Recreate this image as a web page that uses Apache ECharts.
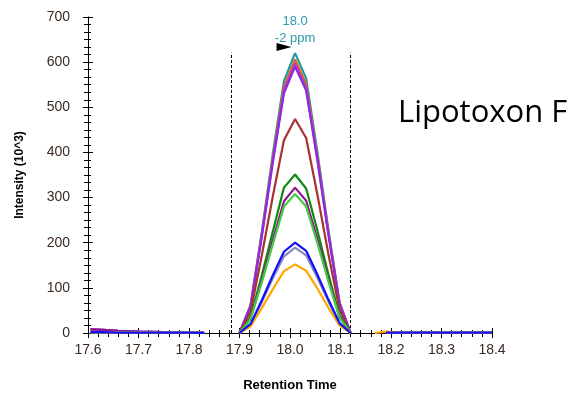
<!DOCTYPE html>
<html>
<head>
<meta charset="utf-8">
<script src="https://cdn.jsdelivr.net/npm/echarts@6/dist/echarts.min.js"></script>
<style>
html, body { margin: 0; padding: 0; background: #fff; }
#main { width: 587px; height: 397px; }
</style>
</head>
<body>
<div id="main"></div>
<script>
// retention times (min)
var leftTimes = [17.605, 17.63, 17.66, 17.70, 17.75, 17.80, 17.83];
var peakTimes = [17.900, 17.922, 17.944, 17.966, 17.988, 18.010, 18.032, 18.054, 18.076, 18.098, 18.120];
var rightTimes = [18.168, 18.19, 18.22, 18.25, 18.28, 18.31, 18.34, 18.37, 18.40];

// baseline intensities
var leftHigh = [8, 7, 5, 3, 2, 1, 1];
var leftLow = [2, 2, 1, 1, 1, 1, 0];
var rightFlat = [null, 1, 1, 1, 1, 1, 1, 1, 1];
var rightOrange = [0, 3, 1, 1, 1, 1, 1, 1, 1];

// peak intensities (10^3)
var tealPeak = [0, 62, 223, 397, 558, 620, 564, 403, 229, 68, 0];
var chocPeak = [0, 61, 218, 388, 545, 606, 551, 394, 224, 67, 0];
var magentaPeak = [0, 60, 215, 382, 537, 597, 543, 388, 221, 66, 0];
var violetPeak = [0, 59, 212, 378, 531, 590, 537, 384, 218, 65, 0];
var brownPeak = [0, 47, 171, 303, 427, 474, 432, 308, 175, 52, 0];
var greenPeak = [0, 35, 127, 225, 322, 351, 320, 228, 130, 39, 0];
var purplePeak = [0, 32, 116, 206, 292, 322, 293, 209, 119, 35, 0];
var limePeak = [0, 31, 111, 197, 280, 308, 280, 200, 114, 34, 0];
var lavenderPeak = [0, 19, 68, 121, 170, 189, 172, 123, 70, 21, 0];
var orangePeak = [0, 15, 55, 97, 137, 152, 138, 99, 56, 17, 0];
var bluePeak = [0, 20, 72, 128, 180, 200, 182, 130, 74, 22, 0];

var boundaries = [17.883, 18.119];
var boundaryTop = 621;
var apexTime = 18.010;
var apexLabel = '18.0\n-2 ppm';

function seg(times, vals) {
    var out = [];
    for (var i = 0; i < times.length; i++) {
        out.push([times[i], vals[i] == null ? null : vals[i]]);
    }
    return out;
}

function makeData(left, peak, right) {
    var d = seg(leftTimes, left);
    d.push([17.86, null]);
    d = d.concat(seg(peakTimes, peak));
    d.push([18.15, null]);
    d = d.concat(seg(rightTimes, right));
    return d;
}

var traces = [
    { color: '#1f9a9a', left: leftLow, peak: tealPeak, right: rightFlat },
    { color: '#d2691e', left: leftLow, peak: chocPeak, right: rightFlat },
    { color: '#cc33cc', left: leftHigh, peak: magentaPeak, right: rightFlat },
    { color: '#8a2be2', left: leftHigh, peak: violetPeak, right: rightFlat },
    { color: '#a83232', left: leftLow, peak: brownPeak, right: rightFlat },
    { color: '#118811', left: leftLow, peak: greenPeak, right: rightFlat },
    { color: '#8b1a8b', left: leftHigh, peak: purplePeak, right: rightFlat },
    { color: '#44cc44', left: leftLow, peak: limePeak, right: rightFlat },
    { color: '#8888bb', left: leftLow, peak: lavenderPeak, right: rightFlat },
    { color: '#ffa500', left: leftLow, peak: orangePeak, right: rightOrange },
    { color: '#1010ff', left: leftLow, peak: bluePeak, right: rightFlat }
];

var series = [];
for (var i = 0; i < traces.length; i++) {
    var t = traces[i];
    series.push({
        type: 'line',
        data: makeData(t.left, t.peak, t.right),
        symbol: 'none',
        connectNulls: false,
        lineStyle: { color: t.color, width: 2.2 },
        itemStyle: { color: t.color },
        z: 3 + i,
        animation: false
    });
}

// boundaries + apex annotation on the teal trace
series[0].markLine = {
    silent: true,
    symbol: 'none',
    label: { show: false },
    lineStyle: { color: '#000', width: 1, type: [3, 2] },
    data: boundaries.map(function (b) {
        return [{ coord: [b, 0] }, { coord: [b, boundaryTop] }];
    })
};
series[0].markPoint = {
    silent: true,
    data: [
        {
            coord: [apexTime, tealPeak[5]],
            symbol: 'triangle',
            symbolSize: [8, 15],
            symbolRotate: -90,
            symbolOffset: [-11, -6],
            itemStyle: { color: '#000' },
            label: { show: false }
        },
        {
            coord: [apexTime, tealPeak[5]],
            symbolSize: 0,
            label: {
                show: true,
                position: 'top',
                offset: [0, -1],
                formatter: apexLabel,
                color: '#2a9aa8',
                fontSize: 13,
                lineHeight: 17,
                fontFamily: 'Liberation Sans, Arial, sans-serif'
            }
        }
    ]
};

var font = 'Liberation Sans, Arial, sans-serif';
var myChart = echarts.init(document.getElementById('main'));
var option = {
    backgroundColor: '#fff',
    animation: false,
    grid: { left: 88, right: 95, top: 17, bottom: 61 },
    xAxis: [{
        type: 'value',
        min: 17.6, max: 18.4, interval: 0.1,
        position: 'bottom',
        name: 'Retention Time',
        nameLocation: 'middle',
        nameGap: 46,
        nameTextStyle: { color: '#000', fontWeight: 'bold', fontSize: 13, fontFamily: font },
        axisLine: { lineStyle: { color: '#000', width: 1 } },
        axisTick: { length: 5, lineStyle: { color: '#000' } },
        minorTick: { show: true, splitNumber: 5, length: 4, lineStyle: { color: '#000' } },
        axisLabel: { color: '#3a2a22', fontSize: 14, margin: 10, fontFamily: font,
            formatter: function (v) { return v.toFixed(1); } },
        splitLine: { show: false }
    }, {
        type: 'value',
        min: 17.6, max: 18.4, interval: 0.1,
        position: 'bottom',
        axisLine: { show: false },
        axisTick: { inside: true, length: 5, lineStyle: { color: '#000' } },
        minorTick: { show: true, splitNumber: 5, length: 3, lineStyle: { color: '#000' } },
        axisLabel: { show: false },
        splitLine: { show: false }
    }],
    yAxis: [{
        type: 'value',
        min: 0, max: 700, interval: 100,
        name: 'Intensity (10^3)',
        nameLocation: 'middle',
        nameGap: 62,
        nameTextStyle: { color: '#000', fontWeight: 'bold', fontSize: 12, fontFamily: font },
        axisLine: { show: true, lineStyle: { color: '#000', width: 1 } },
        axisTick: { show: true, length: 5, lineStyle: { color: '#000' } },
        minorTick: { show: true, splitNumber: 6, length: 4, lineStyle: { color: '#000' } },
        axisLabel: { color: '#3a2a22', fontSize: 14, margin: 18, fontFamily: font },
        splitLine: { show: false }
    }, {
        type: 'value',
        min: 0, max: 700, interval: 100,
        position: 'left',
        axisLine: { show: false },
        axisTick: { show: true, inside: true, length: 5, lineStyle: { color: '#000' } },
        minorTick: { show: true, splitNumber: 6, length: 3, lineStyle: { color: '#000' } },
        axisLabel: { show: false },
        splitLine: { show: false }
    }],
    graphic: [{
        type: 'text',
        left: 398,
        top: 98,
        style: { text: 'Lipotoxon F', fontSize: 31, fontFamily: 'Open Sans, Noto Sans, sans-serif', fill: '#000' }
    }],
    series: series
};
myChart.setOption(option);
</script>
</body>
</html>
